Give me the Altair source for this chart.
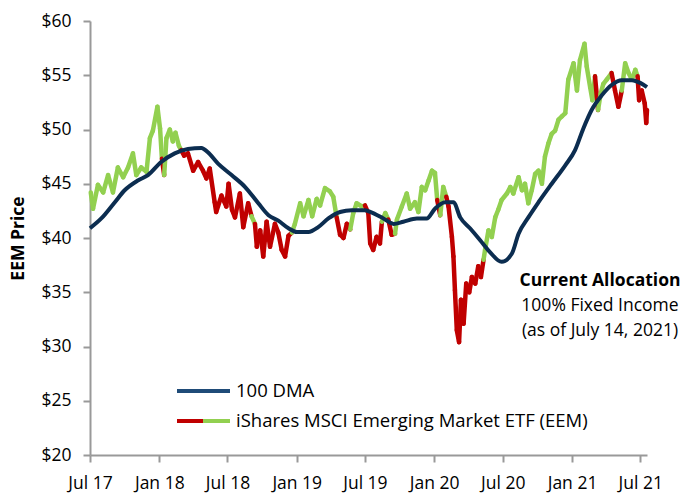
import altair as alt
import pandas as pd

# ---- EEM price; state: G = above 100 DMA, R = below ----
price_dates = [
    "2017-07-03", "2017-07-09", "2017-07-22", "2017-08-05", "2017-08-18", "2017-08-31",
    "2017-09-13", "2017-09-27", "2017-10-10", "2017-10-23", "2017-11-01", "2017-11-14",
    "2017-11-28", "2017-12-07", "2017-12-15", "2017-12-27", "2018-01-03", "2018-01-08",
    "2018-01-14", "2018-01-20", "2018-01-29", "2018-02-06", "2018-02-13", "2018-02-22",
    "2018-02-28", "2018-03-08", "2018-03-18", "2018-04-01", "2018-04-14", "2018-04-27",
    "2018-05-06", "2018-05-15", "2018-05-28", "2018-06-01", "2018-06-15", "2018-06-28",
    "2018-07-04", "2018-07-13", "2018-07-21", "2018-08-03", "2018-08-12", "2018-08-25",
    "2018-09-03", "2018-09-12", "2018-09-17", "2018-09-26", "2018-10-04", "2018-10-13",
    "2018-10-22", "2018-11-04", "2018-11-13", "2018-11-22", "2018-12-01", "2018-12-10",
    "2018-12-19", "2018-12-27", "2019-01-10", "2019-01-19", "2019-02-01", "2019-02-11",
    "2019-02-23", "2019-03-04", "2019-03-17", "2019-03-30", "2019-04-08", "2019-04-17",
    "2019-04-26", "2019-05-05", "2019-05-14", "2019-05-23", "2019-05-31", "2019-06-09",
    "2019-06-23", "2019-07-01", "2019-07-10", "2019-07-15", "2019-07-23", "2019-08-01",
    "2019-08-10", "2019-08-15", "2019-08-24", "2019-09-01", "2019-09-10", "2019-09-19",
    "2019-09-24", "2019-10-07", "2019-10-20", "2019-10-29", "2019-11-11", "2019-11-20",
    "2019-11-29", "2019-12-08", "2019-12-17", "2019-12-26", "2020-01-03", "2020-01-09",
    "2020-01-17", "2020-01-25", "2020-02-02", "2020-02-08", "2020-02-17", "2020-02-21",
    "2020-02-25", "2020-03-01", "2020-03-07", "2020-03-12", "2020-03-19", "2020-03-26",
    "2020-04-03", "2020-04-10", "2020-04-19", "2020-04-27", "2020-05-04", "2020-05-11",
    "2020-05-15", "2020-05-24", "2020-06-02", "2020-06-11", "2020-06-19", "2020-06-28",
    "2020-07-12", "2020-07-21", "2020-07-29", "2020-08-12", "2020-08-21", "2020-08-29",
    "2020-09-07", "2020-09-16", "2020-09-25", "2020-10-04", "2020-10-13", "2020-10-21",
    "2020-10-30", "2020-11-08", "2020-11-17", "2020-11-26", "2020-12-05", "2020-12-14",
    "2020-12-22", "2021-01-05", "2021-01-14", "2021-01-22", "2021-02-03", "2021-02-09",
    "2021-02-18", "2021-02-24", "2021-03-03", "2021-03-11", "2021-03-18", "2021-03-25",
    "2021-04-03", "2021-04-16", "2021-04-25", "2021-05-04", "2021-05-13", "2021-05-22",
    "2021-05-31", "2021-06-09", "2021-06-18", "2021-06-24", "2021-06-28", "2021-07-05",
    "2021-07-13", "2021-07-17", "2021-07-19",
]
price_vals = [
    44.2, 42.7, 44.9, 44.2, 45.8, 44.2,
    46.5, 45.6, 46.5, 47.8, 45.8, 46.5,
    46.1, 49.2, 49.9, 52.1, 50.1, 47.3,
    45.8, 49.2, 50.0, 48.9, 49.7, 48.5,
    48.1, 47.6, 47.8, 46.2, 47.0, 46.2,
    45.5, 46.4, 43.3, 42.4, 43.9, 42.9,
    45.0, 42.6, 41.9, 44.1, 41.0, 43.2,
    42.0, 41.3, 39.2, 40.7, 38.3, 41.5,
    39.2, 41.3, 40.5, 38.9, 38.3, 40.2,
    40.5, 41.3, 43.2, 42.0, 43.5, 42.0,
    43.6, 43.0, 44.6, 44.3, 43.8, 41.9,
    40.3, 40.0, 41.3, 40.8, 42.3, 43.2,
    42.9, 43.0, 42.3, 39.5, 38.9, 40.1,
    39.5, 41.5, 42.3, 41.7, 40.3, 40.4,
    41.7, 42.9, 44.1, 42.7, 43.3, 42.4,
    44.7, 44.4, 45.3, 46.2, 46.0, 43.5,
    42.1, 44.7, 43.8, 42.9, 40.1, 38.3,
    35.2, 31.5, 30.4, 34.3, 32.1, 35.8,
    35.0, 36.4, 35.8, 37.4, 36.4, 38.0,
    38.9, 40.7, 40.1, 41.9, 42.6, 43.5,
    44.1, 44.7, 44.1, 45.6, 44.4, 45.0,
    43.2, 44.4, 45.9, 46.2, 45.0, 47.5,
    48.7, 49.6, 49.9, 50.9, 51.2, 51.5,
    54.6, 56.1, 53.6, 56.4, 57.9, 55.8,
    53.9, 52.7, 54.9, 51.8, 53.3, 54.2,
    54.6, 55.2, 53.6, 52.1, 53.6, 56.1,
    55.2, 54.6, 55.5, 54.9, 52.7, 53.6,
    52.4, 50.6, 51.8,
]
price_state = list(
    "GGGGGG" "GGGGGG" "GGGGGG" "RGGGGG" "GRRRRR" "RRRRRR"
    "RRRRRR" "RGRRRR" "RRRRRR" "RGGGGG" "GGGGGG" "RRRRGG"
    "GGRRRR" "RRGGRR" "GGGGGG" "GGGGGG" "RGGRRR" "RRRRRR"
    "RRRRRR" "GGGGGG" "GGGGGG" "GGGGGG" "GGGGGG" "GGGGGG"
    "GGGRGG" "GGRRRG" "GGGGRR" "RRR"
)

# ---- 100-day moving average ----
dma_dates = [
    "2017-07-01", "2017-07-31", "2017-09-05", "2017-10-01", "2017-11-05", "2017-12-02",
    "2018-01-06", "2018-02-11", "2018-03-18", "2018-04-23", "2018-05-10", "2018-06-06",
    "2018-07-12", "2018-08-17", "2018-09-21", "2018-10-18", "2018-11-13", "2018-12-10",
    "2019-01-01", "2019-02-01", "2019-02-27", "2019-03-26", "2019-04-26", "2019-05-27",
    "2019-07-01", "2019-07-15", "2019-08-19", "2019-09-15", "2019-10-11", "2019-11-16",
    "2019-12-12", "2020-01-03", "2020-01-30", "2020-02-21", "2020-03-10", "2020-04-05",
    "2020-05-02", "2020-05-28", "2020-06-28", "2020-07-25", "2020-08-12", "2020-09-07",
    "2020-10-04", "2020-11-08", "2020-12-14", "2021-01-09", "2021-01-31", "2021-02-22",
    "2021-03-21", "2021-04-16", "2021-05-13", "2021-06-09", "2021-07-01", "2021-07-19",
]
dma_vals = [
    40.9, 41.8, 43.3, 44.4, 45.3, 45.8,
    47.0, 47.8, 48.2, 48.3, 47.9, 46.85,
    45.8, 44.7, 43.2, 42.1, 41.6, 40.9,
    40.55, 40.55, 41.0, 41.8, 42.4, 42.55,
    42.55, 42.4, 41.8, 41.3, 41.5, 41.8,
    41.8, 42.7, 43.3, 43.3, 41.9, 40.9,
    39.8, 38.7, 37.8, 38.55, 40.4, 41.9,
    43.3, 45.0, 46.7, 48.1, 50.1, 51.8,
    53.15, 54.1, 54.55, 54.55, 54.3, 53.9,
]

x_ticks = ["2017-07-01", "2018-01-01", "2018-07-01", "2019-01-01", "2019-07-01",
           "2020-01-01", "2020-07-01", "2021-01-01", "2021-07-01"]
y_ticks = [20, 25, 30, 35, 40, 45, 50, 55, 60]
legend_labels = ["100 DMA", "iShares MSCI Emerging Market ETF (EEM)"]
note_lines = ["Current Allocation", "100% Fixed Income", "(as of July 14, 2021)"]

GREEN = "#92d050"
RED = "#c00000"
NAVY = "#0c2d50"
AXIS = "#999999"
FONT = "Open Sans"
FS = 17.5

# segments between consecutive price points
pd_dates = pd.to_datetime(price_dates)
seg = pd.DataFrame({
    "date": pd_dates[:-1],
    "date2": pd_dates[1:],
    "price": price_vals[:-1],
    "price2": price_vals[1:],
    "state": price_state[1:],
})
dma = pd.DataFrame({"date": pd.to_datetime(dma_dates), "price": dma_vals})


def dt(s):
    t = pd.Timestamp(s)
    return alt.DateTime(year=t.year, month=t.month, date=t.day)


x_scale = alt.Scale(domain=[dt("2017-07-01"), dt("2021-07-19")])
y_scale = alt.Scale(domain=[20, 60], nice=False, zero=False)

x_axis = alt.Axis(
    values=[dt(s) for s in x_ticks], format="%b %y", title=None, grid=False,
    domainColor=AXIS, domainWidth=2, tickColor=AXIS, tickWidth=2, tickSize=7,
    labelFont=FONT, labelFontSize=FS, labelColor="#000000", labelPadding=12,
    labelFlush=False, labelOverlap=False,
)
y_axis = alt.Axis(
    values=y_ticks, labelExpr="'$' + datum.value", grid=False,
    domainColor=AXIS, domainWidth=2, tickColor=AXIS, tickWidth=2, tickSize=7,
    labelFont=FONT, labelFontSize=FS, labelColor="#000000", labelPadding=12,
    title="EEM Price", titleFont=FONT, titleFontSize=FS, titleFontWeight="bold",
    titleColor="#000000", titleAngle=270, titleX=-72, titleY=217,
    titleAlign="center", titleBaseline="middle",
)

segments = alt.Chart(seg).mark_rule(strokeWidth=4.5, strokeCap="round").encode(
    x=alt.X("date:T", scale=x_scale, axis=x_axis),
    x2="date2:T",
    y=alt.Y("price:Q", scale=y_scale, axis=y_axis),
    y2="price2:Q",
    color=alt.Color("state:N", scale=alt.Scale(domain=["G", "R"], range=[GREEN, RED]), legend=None),
)

dma_line = alt.Chart(dma).mark_line(strokeWidth=4, color=NAVY, interpolate="monotone").encode(
    x="date:T", y="price:Q"
)

one = pd.DataFrame({"k": [0]})
leg1 = alt.Chart(one).mark_rule(strokeWidth=4, color="#1f4b78").encode(
    x=alt.value(87), x2=alt.value(140), y=alt.value(370))
leg2r = alt.Chart(one).mark_rule(strokeWidth=4, color=RED).encode(
    x=alt.value(87), x2=alt.value(113), y=alt.value(400))
leg2g = alt.Chart(one).mark_rule(strokeWidth=4, color=GREEN).encode(
    x=alt.value(113), x2=alt.value(140), y=alt.value(400))

leg_df = pd.DataFrame({"t": legend_labels, "row": [0, 1]})
leg_text1 = alt.Chart(leg_df).mark_text(
    align="left", baseline="middle", font=FONT, fontSize=18.5, color="#000000"
).encode(x=alt.value(146), y=alt.value(370), text="t:N").transform_filter("datum.row == 0")
leg_text2 = alt.Chart(leg_df).mark_text(
    align="left", baseline="middle", font=FONT, fontSize=18.5, color="#000000"
).encode(x=alt.value(146), y=alt.value(400), text="t:N").transform_filter("datum.row == 1")

NOTE_X = 510
note_df = pd.DataFrame({"t": note_lines, "row": [0, 1, 2]})
note1 = alt.Chart(note_df).mark_text(
    align="center", baseline="middle", font=FONT, fontSize=FS, fontWeight="bold", color="#000000"
).encode(x=alt.value(NOTE_X), y=alt.value(260), text="t:N").transform_filter("datum.row == 0")
note2 = alt.Chart(note_df).mark_text(
    align="center", baseline="middle", font=FONT, fontSize=FS, color="#000000"
).encode(x=alt.value(NOTE_X), y=alt.value(285), text="t:N").transform_filter("datum.row == 1")
note3 = alt.Chart(note_df).mark_text(
    align="center", baseline="middle", font=FONT, fontSize=FS, color="#000000"
).encode(x=alt.value(NOTE_X), y=alt.value(310), text="t:N").transform_filter("datum.row == 2")

chart = alt.layer(
    segments, dma_line, leg1, leg2r, leg2g, leg_text1, leg_text2, note1, note2, note3
).properties(
    width=557, height=434,
    padding={"left": 82, "top": 13, "right": 36, "bottom": 40},
    autosize=alt.AutoSizeParams(type="none"),
    background="white",
).configure_view(stroke=None)

chart.save("out.html", embed_options={"renderer": "svg", "actions": False})
